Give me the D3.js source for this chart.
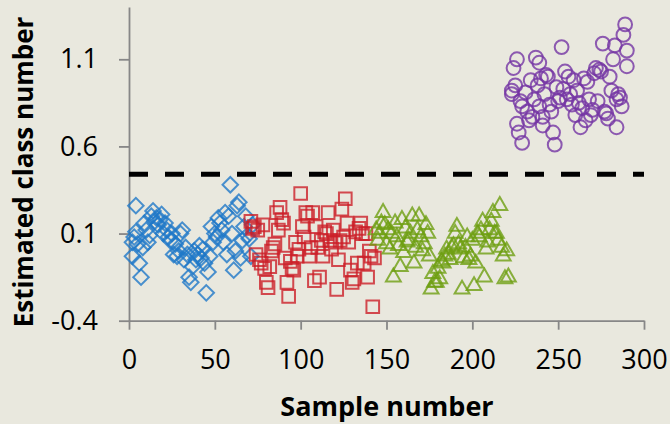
<!DOCTYPE html>
<html lang="en">
  <head>
    <meta charset="UTF-8" />
    <title>Estimated class number</title>
    <style>
      body {
        margin: 0;
        background: #e9e8de;
      }
      text {
        font-family: 'Open Sans', 'Noto Sans', sans-serif;
        fill: #000;
      }
      .axis path,
      .axis line {
        stroke: #878787;
        stroke-width: 1.8px;
      }
    </style>
  </head>
  <body>
    <div id="main"></div>
    <script src="https://cdn.jsdelivr.net/npm/d3@7"></script>
    <script>
      const [width, height] = [670, 424]

      // [sample, estimated class]
      const class1 = [
        [2, 0.05], [2, -0.03], [3, 0.08], [4, 0.26], [4, 0.11], [5, 0.04], [6, -0.07], [7, -0.15],
        [8, 0.02], [9, 0.16], [10, 0.12], [11, 0.05], [12, 0.09], [13, 0.2], [14, 0.23], [15, 0.17],
        [16, 0.19], [17, 0.15], [18, 0.18], [19, 0.21], [20, 0.1], [21, 0.16], [22, 0.12], [23, 0.08],
        [24, 0.06], [25, 0.1], [26, -0.02], [27, 0.04], [28, -0.03], [29, 0.0], [30, 0.1], [31, 0.12],
        [32, -0.05], [33, 0.02], [34, -0.02], [35, -0.15], [36, -0.18], [37, -0.09], [38, 0.0], [39, -0.05],
        [40, -0.02], [41, 0.03], [42, -0.04], [43, 0.01], [44, -0.07], [45, -0.24], [46, -0.12], [47, -0.03],
        [48, 0.14], [49, 0.05], [50, 0.1], [51, 0.08], [52, 0.19], [53, 0.16], [54, 0.12], [55, 0.05],
        [56, 0.22], [57, -0.02], [58, 0.2], [59, 0.38], [60, 0.1], [61, -0.11], [62, 0.0], [63, 0.26],
        [64, 0.28], [65, -0.04], [66, 0.06], [67, 0.14], [68, 0.2], [69, 0.09], [70, 0.07], [71, -0.03], [72, 0.15]
      ]
      const class2 = [
        [71, 0.17], [72, 0.13], [73, 0.14], [74, -0.02], [75, 0.12], [76, -0.05], [77, -0.07], [78, 0.15],
        [79, -0.1], [80, -0.18], [81, -0.21], [82, -0.09], [83, 0.0], [84, 0.02], [85, 0.04], [86, 0.22],
        [87, 0.12], [88, 0.25], [89, 0.18], [90, 0.16], [91, -0.04], [92, -0.18], [93, -0.26], [94, -0.06],
        [95, -0.1], [96, -0.11], [97, 0.05], [98, -0.03], [99, 0.01], [100, 0.33], [101, 0.14], [102, 0.08],
        [103, 0.22], [104, 0.2], [105, -0.03], [106, 0.02], [107, 0.22], [108, -0.17], [109, 0.14], [110, 0.02],
        [111, -0.15], [112, 0.06], [113, -0.03], [114, 0.11], [115, 0.1], [116, 0.22], [117, 0.06], [118, 0.01],
        [119, 0.12], [120, 0.05], [121, -0.22], [122, -0.05], [123, 0.06], [124, 0.24], [125, 0.08], [126, 0.3],
        [127, 0.16], [128, 0.05], [129, -0.11], [130, -0.18], [131, -0.16], [132, 0.11], [133, -0.07], [134, 0.13],
        [135, 0.16], [136, 0.1], [137, -0.07], [138, 0.1], [139, -0.15], [140, 0.0], [141, -0.03], [142, -0.32], [143, -0.04]
      ]
      const class3 = [
        [144, 0.12], [145, 0.06], [146, 0.1], [147, 0.16], [148, 0.22], [149, 0.15], [150, 0.04], [151, 0.12],
        [152, 0.01], [153, 0.1], [154, -0.15], [155, 0.16], [156, 0.08], [157, 0.03], [158, -0.09], [159, 0.18],
        [160, -0.01], [161, 0.13], [162, 0.05], [163, 0.06], [164, 0.1], [165, 0.2], [166, -0.07], [167, 0.02],
        [168, 0.12], [169, 0.2], [170, 0.08], [171, 0.0], [172, 0.04], [173, 0.15], [174, 0.1], [175, -0.03],
        [176, -0.22], [177, -0.13], [178, -0.18], [179, -0.18], [180, -0.1], [181, -0.16], [182, -0.06], [183, -0.07],
        [184, -0.03], [185, 0.01], [186, -0.02], [187, -0.05], [188, 0.02], [189, 0.03], [190, 0.1], [191, 0.14],
        [192, 0.04], [193, 0.01], [194, -0.22], [195, -0.04], [196, 0.02], [197, 0.08], [198, -0.05], [199, -0.03],
        [200, 0.06], [201, -0.2], [202, -0.07], [203, 0.1], [204, 0.08], [205, 0.12], [206, 0.17], [207, -0.15],
        [208, 0.01], [209, 0.05], [210, 0.12], [211, 0.17], [212, 0.22], [213, 0.1], [214, 0.1], [215, 0.06],
        [216, 0.26], [217, 0.02], [218, -0.03], [219, -0.16], [220, 0.0], [221, -0.15]
      ]
      const class4 = [
        [223, 0.92], [223, 0.9], [224, 1.05], [225, 0.95], [226, 1.1], [226, 0.73], [227, 0.68], [228, 0.86],
        [229, 0.62], [229, 0.83], [231, 0.91], [232, 0.8], [233, 0.75], [234, 0.98], [235, 0.77], [236, 0.87],
        [237, 1.11], [238, 0.95], [239, 1.08], [239, 0.83], [240, 0.99], [241, 0.72], [241, 0.77], [242, 0.9],
        [243, 1.01], [244, 1.0], [245, 0.84], [246, 0.8], [247, 0.68], [248, 0.61], [249, 0.94], [250, 0.86],
        [251, 0.88], [252, 1.17], [253, 0.93], [254, 1.03], [255, 0.87], [256, 1.0], [257, 0.9], [258, 0.84],
        [259, 0.98], [260, 0.78], [261, 0.92], [262, 0.85], [263, 0.71], [264, 0.82], [265, 0.99], [266, 0.75],
        [267, 0.97], [268, 0.87], [269, 0.78], [270, 0.81], [271, 1.02], [272, 1.05], [273, 0.86], [274, 1.04],
        [275, 1.03], [276, 1.19], [277, 0.8], [278, 0.79], [279, 0.76], [280, 1.0], [281, 0.92], [282, 1.1],
        [283, 1.18], [284, 0.87], [284, 0.71], [285, 0.9], [286, 0.88], [287, 0.83], [288, 1.24], [289, 1.3],
        [290, 1.15], [290, 1.06]
      ]
      const threshold = 0.44
      const xTicks = [0, 50, 100, 150, 200, 250, 300]
      const yTicks = [-0.4, 0.1, 0.6, 1.1]

      const series = [
        { data: class1, color: '#1f78c8', shape: 'diamond' },
        { data: class2, color: '#cc1f28', shape: 'square' },
        { data: class3, color: '#6e9f12', shape: 'triangle' },
        { data: class4, color: '#7434a4', shape: 'circle' }
      ]

      const svg = d3
        .select('#main')
        .append('svg')
        .attr('width', width)
        .attr('height', height)
        .attr('viewBox', `0 0 ${width} ${height}`)

      const xScale = d3.scaleLinear().domain([0, 300]).range([129, 644])
      const yScale = d3.scaleLinear().domain([-0.4, 1.4]).range([320.7, 7])

      // x axis
      const xAxis = svg
        .append('g')
        .attr('class', 'axis')
        .attr('transform', `translate(0, ${yScale(-0.4)})`)
        .call(
          d3.axisBottom(xScale).tickValues(xTicks).tickSize(9).tickSizeOuter(0).tickPadding(20)
        )
      xAxis.selectAll('text').style('font-size', '27px')

      // y axis, hyphen minus like the original
      const yAxis = svg
        .append('g')
        .attr('class', 'axis')
        .attr('transform', `translate(${xScale(0)}, 0)`)
        .call(
          d3
            .axisLeft(yScale)
            .tickValues(yTicks)
            .tickFormat(d => d.toFixed(1))
            .tickSize(10)
            .tickSizeOuter(0)
            .tickPadding(21)
        )
      yAxis.selectAll('text').style('font-size', '27px')

      // threshold line
      svg
        .append('line')
        .attr('x1', xScale(0))
        .attr('x2', xScale(300))
        .attr('y1', yScale(threshold))
        .attr('y2', yScale(threshold))
        .attr('stroke', '#000')
        .attr('stroke-width', 5)
        .attr('stroke-dasharray', '19 17')

      const symbols = {
        diamond: d3.symbol(d3.symbolSquare, 120)(),
        square: d3.symbol(d3.symbolSquare, 160)(),
        triangle: d3.symbol(d3.symbolTriangle, 95)(),
        circle: d3.symbol(d3.symbolCircle, 150)()
      }

      series.forEach(({ data, color, shape }) => {
        svg
          .append('g')
          .selectAll('path')
          .data(data)
          .join('path')
          .attr('d', symbols[shape])
          .attr('transform', ([sx, sy]) =>
            `translate(${xScale(sx)}, ${yScale(sy)})` + (shape === 'diamond' ? ' rotate(45)' : '')
          )
          .attr('fill', 'none')
          .attr('stroke', color)
          .attr('stroke-width', 2)
          .attr('stroke-opacity', 0.8)
      })

      // axis titles
      svg
        .append('text')
        .attr('x', 387)
        .attr('y', 416)
        .attr('text-anchor', 'middle')
        .style('font-size', '27px')
        .style('font-weight', 'bold')
        .text('Sample number')

      svg
        .append('text')
        .attr('transform', 'translate(33, 172) rotate(-90)')
        .attr('text-anchor', 'middle')
        .style('font-size', '26px')
        .style('font-weight', 'bold')
        .text('Estimated class number')
    </script>
  </body>
</html>
